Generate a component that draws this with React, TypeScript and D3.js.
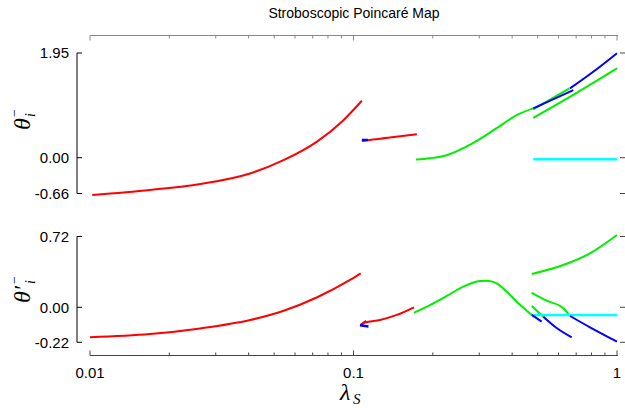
import React from "react";
import * as d3 from "d3";

// ---- data ----
const xMajorTicks = [0.01, 0.1, 1];
const xMajorLabels = ["0.01", "0.1", "1"];
const xMinorTicks = [0.02, 0.03, 0.04, 0.05, 0.06, 0.07, 0.08, 0.09, 0.2, 0.3, 0.4, 0.5, 0.6, 0.7, 0.8, 0.9];
const topTicks = [-0.66, 0, 1.95];
const topTickLabels = ["-0.66", "0.00", "1.95"];
const botTicks = [-0.22, 0, 0.72];
const botTickLabels = ["-0.22", "0.00", "0.72"];

// top panel series
const topRed1X = [0.0102, 0.0169, 0.0262, 0.0405, 0.054, 0.0727, 0.0912, 0.1076];
const topRed1Y = [-0.687, -0.595, -0.485, -0.29, -0.05, 0.3, 0.69, 1.06];
const topRed2X = [0.1076, 0.113, 0.135, 0.174];
const topRed2Y = [0.31, 0.325, 0.37, 0.438];
const topBlueSmallX = [0.1076, 0.1135];
const topBlueSmallY = [0.33, 0.33];
const topGreen1X = [0.1726, 0.195, 0.2258, 0.284, 0.3495, 0.4163, 0.481];
const topGreen1Y = [-0.034, -0.01, 0.047, 0.27, 0.55, 0.793, 0.918];
const topGreenShortX = [0.481, 0.66];
const topGreenShortY = [0.9, 1.29];
const topGreen2X = [0.481, 0.703, 1.0];
const topGreen2Y = [0.743, 1.209, 1.664];
const topBlueShortX = [0.481, 0.6826];
const topBlueShortY = [0.918, 1.26];
const topBlueLongX = [0.663, 0.837, 1.0];
const topBlueLongY = [1.29, 1.646, 1.944];
const topCyanX = [0.481, 1.0];
const topCyanY = [-0.03, -0.03];

// bottom panel series
const botRed1X = [0.01, 0.0169, 0.0262, 0.0405, 0.054, 0.0725, 0.097, 0.1065];
const botRed1Y = [-0.188, -0.168, -0.133, -0.08, -0.0233, 0.0997, 0.278, 0.346];
const botRed2X = [0.1068, 0.1106, 0.126, 0.1459, 0.1697];
const botRed2Y = [-0.108, -0.0955, -0.08, -0.048, 0.0];
const botRedHookX = [0.1068, 0.1116];
const botRedHookY = [-0.108, -0.085];
const botBlueSmallX = [0.1058, 0.114];
const botBlueSmallY = [-0.113, -0.12];
const botGreen1X = [0.1697, 0.195, 0.2258, 0.261, 0.302, 0.3202, 0.3495, 0.3815, 0.4163, 0.4543, 0.4747];
const botGreen1Y = [-0.034, 0.023, 0.115, 0.2095, 0.2675, 0.2705, 0.244, 0.159, 0.057, -0.021, -0.048];
const botBlueShort1X = [0.4747, 0.5179];
const botBlueShort1Y = [-0.048, -0.0905];
const botGreenUpperX = [0.4747, 0.6256, 0.7899, 1.0];
const botGreenUpperY = [0.3387, 0.43, 0.549, 0.735];
const botGreenMidX = [0.4747, 0.541, 0.6256, 0.6634];
const botGreenMidY = [0.148, 0.067, -0.0063, -0.0547];
const botBlueMidX = [0.6634, 0.7899, 1.0];
const botBlueMidY = [-0.0547, -0.126, -0.216];
const botGreenLowX = [0.4747, 0.5251];
const botGreenLowY = [0.013, -0.059];
const botBlueLowX = [0.5251, 0.5904, 0.673];
const botBlueLowY = [-0.059, -0.13, -0.1886];
const botCyanX = [0.481, 1.0];
const botCyanY = [-0.048, -0.048];

const RED = "#ff0000";
const GREEN = "#00ee00";
const BLUE = "#0000ff";
const CYAN = "#00ffff";

const W = 625;
const H = 408;

export default function App() {
  const x = d3.scaleLog().domain([0.01, 1]).range([90, 617]);
  const yTop = d3.scaleLinear().domain([-0.66, 0, 1.95]).range([193.5, 157.7, 53]);
  const yBot = d3.scaleLinear().domain([-0.22, 0, 0.72]).range([342.3, 307.3, 236.5]);

  const mk = (ys: d3.ScaleLinear<number, number>) =>
    d3
      .line<[number, number]>()
      .x((d) => x(d[0]))
      .y((d) => ys(d[1]))
      .curve(d3.curveMonotoneX);
  const lt = mk(yTop);
  const lb = mk(yBot);
  const zip = (a: number[], b: number[]) => a.map((v, i) => [v, b[i]] as [number, number]);

  const topSeries: [number[], number[], string, number][] = [
    [topRed1X, topRed1Y, RED, 2],
    [topRed2X, topRed2Y, RED, 2],
    [topGreen1X, topGreen1Y, GREEN, 2],
    [topGreenShortX, topGreenShortY, GREEN, 2],
    [topGreen2X, topGreen2Y, GREEN, 2],
    [topCyanX, topCyanY, CYAN, 2.5],
    [topBlueSmallX, topBlueSmallY, BLUE, 2.5],
    [topBlueShortX, topBlueShortY, BLUE, 2],
    [topBlueLongX, topBlueLongY, BLUE, 2],
  ];
  const botSeries: [number[], number[], string, number][] = [
    [botRed1X, botRed1Y, RED, 2],
    [botRed2X, botRed2Y, RED, 2],
    [botRedHookX, botRedHookY, RED, 2],
    [botGreen1X, botGreen1Y, GREEN, 2],
    [botGreenUpperX, botGreenUpperY, GREEN, 2],
    [botGreenMidX, botGreenMidY, GREEN, 2],
    [botGreenLowX, botGreenLowY, GREEN, 2],
    [botCyanX, botCyanY, CYAN, 2.5],
    [botBlueSmallX, botBlueSmallY, BLUE, 2.5],
    [botBlueShort1X, botBlueShort1Y, BLUE, 2],
    [botBlueMidX, botBlueMidY, BLUE, 2],
    [botBlueLowX, botBlueLowY, BLUE, 2],
  ];

  const sans = "'Liberation Sans', Arial, sans-serif";
  const serif = "'Liberation Serif', 'Times New Roman', serif";
  const axisX = 77;
  const topAxisY = 35.5;
  const botAxisY = 355.5;

  const leftAxis = (ys: d3.ScaleLinear<number, number>, ticks: number[], labels: string[]) => {
    const d = ys.domain();
    return (
      <g>
        <line x1={axisX} x2={axisX} y1={ys(d[d.length - 1])} y2={ys(d[0])} stroke="#000" strokeWidth={1} />
        {ticks.map((t, i) => (
          <g key={i}>
            <line x1={axisX} x2={axisX + 5} y1={ys(t)} y2={ys(t)} stroke="#000" strokeWidth={1} />
            <text x={69} y={ys(t)} dy="0.36em" textAnchor="end" fontFamily={sans} fontSize={15} fill="#000">
              {labels[i]}
            </text>
            <line x1={620} x2={625} y1={ys(t)} y2={ys(t)} stroke="#444" strokeWidth={1} />
          </g>
        ))}
      </g>
    );
  };

  return (
    <svg width={W} height={H} style={{ position: "absolute", left: 0, top: 0, background: "#fff" }}>
      <rect x={0} y={0} width={W} height={H} fill="#fff" />
      <text x={354} y={18} textAnchor="middle" fontFamily={sans} fontSize={14} fill="#000">
        Stroboscopic Poincaré Map
      </text>

      {/* top axis */}
      <line x1={x(0.01)} x2={x(1) + 1} y1={topAxisY} y2={topAxisY} stroke="#888" strokeWidth={1} />
      {xMajorTicks.map((t, i) => (
        <line key={"tM" + i} x1={x(t)} x2={x(t)} y1={topAxisY} y2={topAxisY + 5} stroke="#888" strokeWidth={1} />
      ))}
      {xMinorTicks.map((t, i) => (
        <line key={"tm" + i} x1={x(t)} x2={x(t)} y1={topAxisY} y2={topAxisY + 3} stroke="#888" strokeWidth={1} />
      ))}

      {/* bottom axis */}
      <line x1={x(0.01)} x2={x(1) + 1} y1={botAxisY} y2={botAxisY} stroke="#444" strokeWidth={1} />
      {xMajorTicks.map((t, i) => (
        <g key={"bM" + i}>
          <line x1={x(t)} x2={x(t)} y1={botAxisY} y2={botAxisY - 5} stroke="#444" strokeWidth={1} />
          <text x={x(t)} y={378} textAnchor="middle" fontFamily={sans} fontSize={15} fill="#000">
            {xMajorLabels[i]}
          </text>
        </g>
      ))}
      {xMinorTicks.map((t, i) => (
        <line key={"bm" + i} x1={x(t)} x2={x(t)} y1={botAxisY} y2={botAxisY - 3} stroke="#444" strokeWidth={1} />
      ))}

      {leftAxis(yTop, topTicks, topTickLabels)}
      {leftAxis(yBot, botTicks, botTickLabels)}

      {/* data */}
      {topSeries.map(([xs, ys, c, w], i) => (
        <path key={"ts" + i} d={lt(zip(xs, ys)) || ""} fill="none" stroke={c} strokeWidth={w} />
      ))}
      {botSeries.map(([xs, ys, c, w], i) => (
        <path key={"bs" + i} d={lb(zip(xs, ys)) || ""} fill="none" stroke={c} strokeWidth={w} />
      ))}

      {/* y labels */}
      <g transform="translate(30,121) rotate(-90)" fontFamily={serif} fontStyle="italic" fill="#000">
        <text x={-9} y={0} fontSize={24}>θ</text>
        <text x={4} y={5} fontSize={14}>i</text>
        <text x={3} y={-11} fontSize={14}>−</text>
      </g>
      <g transform="translate(30,290) rotate(-90)" fontFamily={serif} fontStyle="italic" fill="#000">
        <text x={-13} y={0} fontSize={24}>θ′</text>
        <text x={6} y={5} fontSize={14}>i</text>
        <text x={5} y={-11} fontSize={14}>−</text>
      </g>

      {/* x label */}
      <g fontFamily={serif} fontStyle="italic" fill="#000">
        <text x={340} y={400} fontSize={24}>λ</text>
        <text x={353} y={404} fontSize={15}>S</text>
      </g>
    </svg>
  );
}
